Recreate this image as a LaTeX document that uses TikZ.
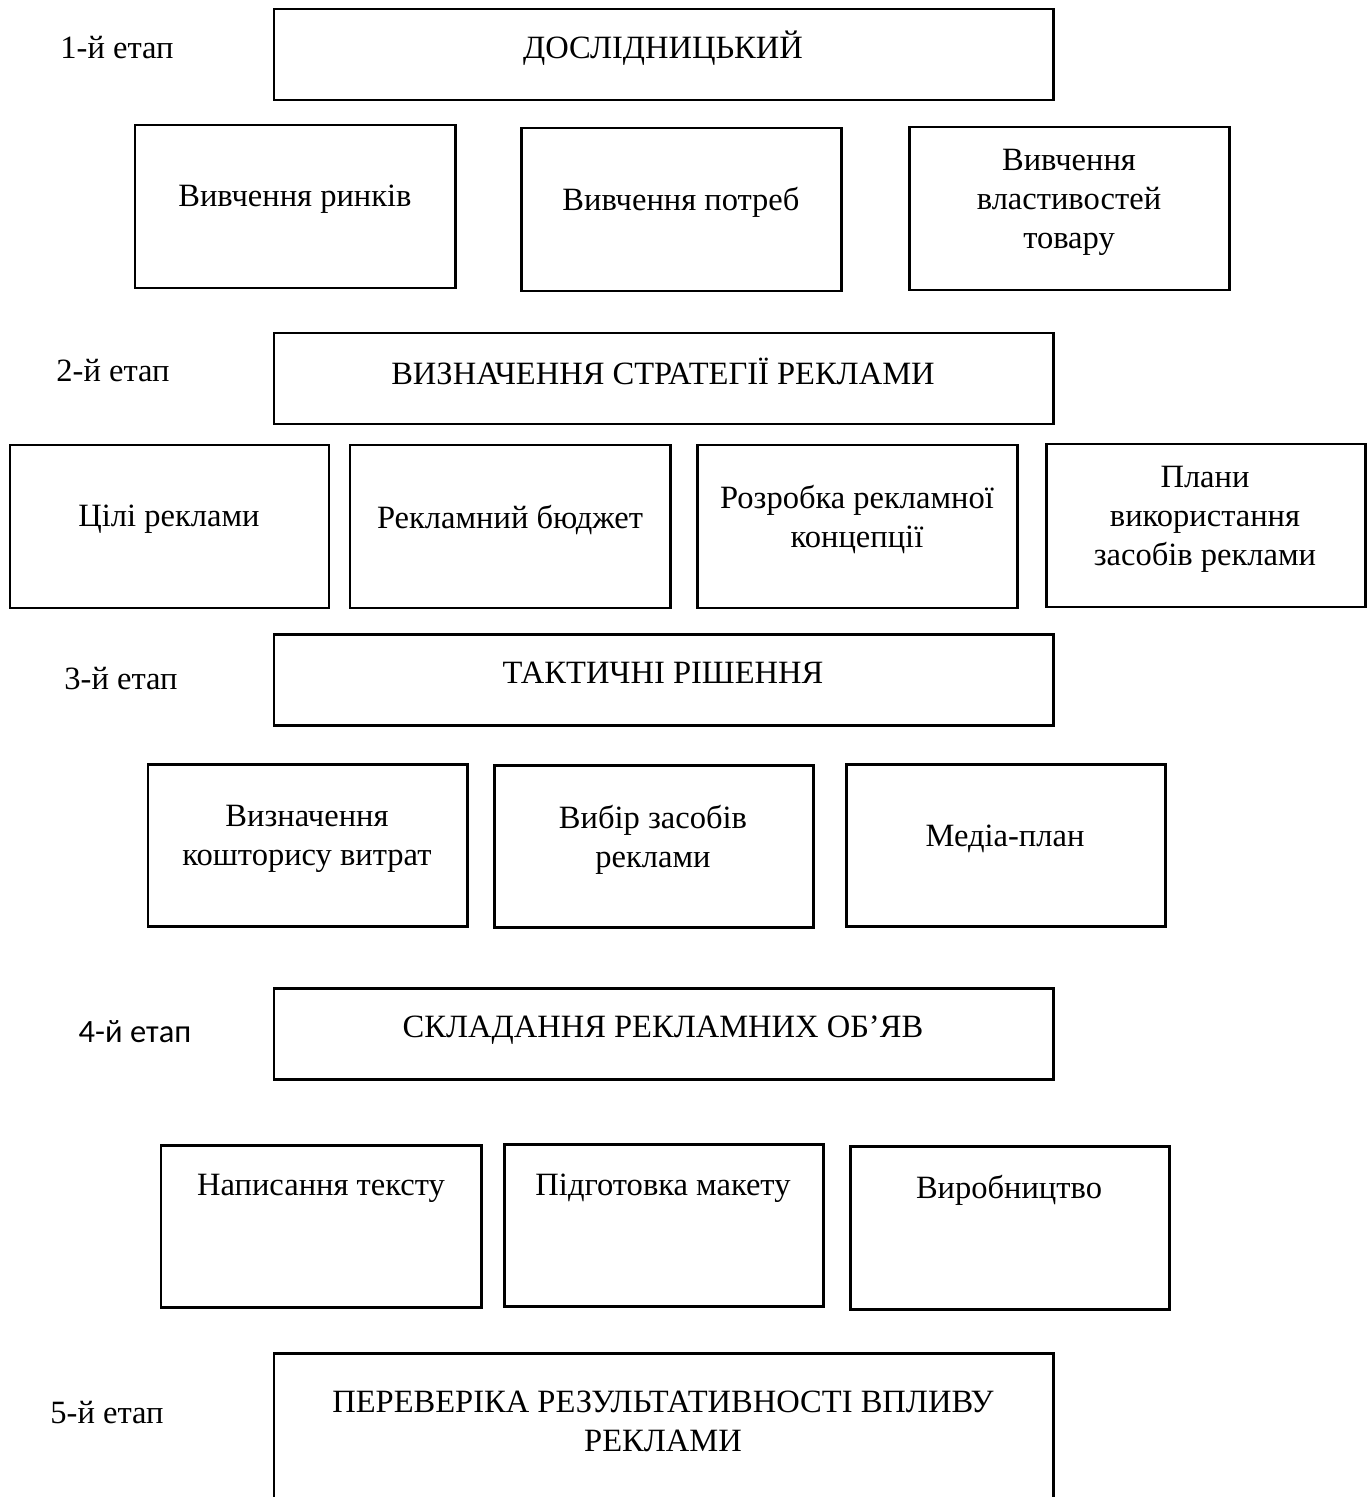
\documentclass[tikz,border=0pt]{standalone}
\usepackage{fontspec}
\setmainfont{Liberation Serif}
\newfontfamily\calibrifont{Carlito}
\usetikzlibrary{positioning,fit}

\tikzset{
	box/.style={draw, line width=0.85pt, inner sep=0pt},
	txt/.style={align=center, inner sep=0pt, yshift=-1pt, font=\fontsize{9.25}{11.1}\selectfont},
	etap/.style={inner sep=0pt, font=\fontsize{9.25}{11.1}\selectfont},
}

\begin{document}
\begin{tikzpicture}[x=0.01cm, y=-0.01cm]
	\clip (0,0) rectangle (1371,1497);
	
	% 1-й етап
	\node[etap] (e1) at (117,48) {1-й етап};
	\node[box, fit={(274,9) (1053,100)}] (s1) {};
	\node[txt] (s1t) at (663,45) {ДОСЛІДНИЦЬКИЙ};
	
	\node[box, fit={(135,125) (455,288)}] (r1a) {};
	\node[txt] (r1at) at (295,196) {Вивчення ринків};
	\node[box, fit={(521,128) (841,291)}] (r1b) {};
	\node[txt] (r1bt) at (681,199) {Вивчення потреб};
	\node[box, fit={(909,127) (1229,290)}] (r1c) {};
	\node[txt] (r1ct) at (1069,199) {Вивчення\\властивостей\\товару};
	
	% 2-й етап
	\node[etap] (e2) at (113,371) {2-й етап};
	\node[box, fit={(274,333) (1053,424)}] (s2) {};
	\node[txt] (s2t) at (663,368) {ВИЗНАЧЕННЯ СТРАТЕГІЇ РЕКЛАМИ};
	
	\node[box, fit={(10,445) (329,608)}] (r2a) {};
	\node[txt] (r2at) at (169,516) {Цілі реклами};
	\node[box, fit={(350,445) (670,608)}] (r2b) {};
	\node[txt] (r2bt) at (510,516) {Рекламний бюджет};
	\node[box, fit={(697,445) (1017,608)}] (r2c) {};
	\node[txt] (r2ct) at (857,516) {Розробка рекламної\\концепції};
	\node[box, fit={(1046,444) (1365,607)}] (r2d) {};
	\node[txt] (r2dt) at (1205,516) {Плани\\використання\\засобів реклами};
	
	% 3-й етап
	\node[etap] (e3) at (121,679) {3-й етап};
	\node[box, fit={(274,634) (1053,725)}] (s3) {};
	\node[txt] (s3t) at (663,669) {ТАКТИЧНІ РІШЕННЯ};
	
	\node[box, fit={(148,764) (467,926)}] (r3a) {};
	\node[txt] (r3at) at (307,835) {Визначення\\кошторису витрат};
	\node[box, fit={(494,765) (813,927)}] (r3b) {};
	\node[txt] (r3bt) at (653,836) {Вибір засобів\\реклами};
	\node[box, fit={(846,764) (1165,926)}] (r3c) {};
	\node[txt] (r3ct) at (1005,835) {Медіа-план};
	
	% 4-й етап
	\node[etap, font=\calibrifont\fontsize{9.25}{11.1}\selectfont] (e4) at (135,1032) {4-й етап};
	\node[box, fit={(274,988) (1053,1079)}] (s4) {};
	\node[txt] (s4t) at (663,1027) {СКЛАДАННЯ РЕКЛАМНИХ ОБ’ЯВ};
	
	\node[box, fit={(161,1145) (481,1307)}] (r4a) {};
	\node[txt] (r4at) at (321,1185) {Написання тексту};
	\node[box, fit={(504,1144) (823,1306)}] (r4b) {};
	\node[txt] (r4bt) at (663,1185) {Підготовка макету};
	\node[box, fit={(850,1146) (1169,1309)}] (r4c) {};
	\node[txt] (r4ct) at (1009,1187) {Виробництво};
	
	% 5-й етап
	\node[etap] (e5) at (107,1413) {5-й етап};
	\node[box, fit={(274,1353) (1053,1560)}] (s5) {};
	\node[txt] (s5t) at (663,1418) {ПЕРЕВЕРІКА РЕЗУЛЬТАТИВНОСТІ ВПЛИВУ\\РЕКЛАМИ};
\end{tikzpicture}
\end{document}
